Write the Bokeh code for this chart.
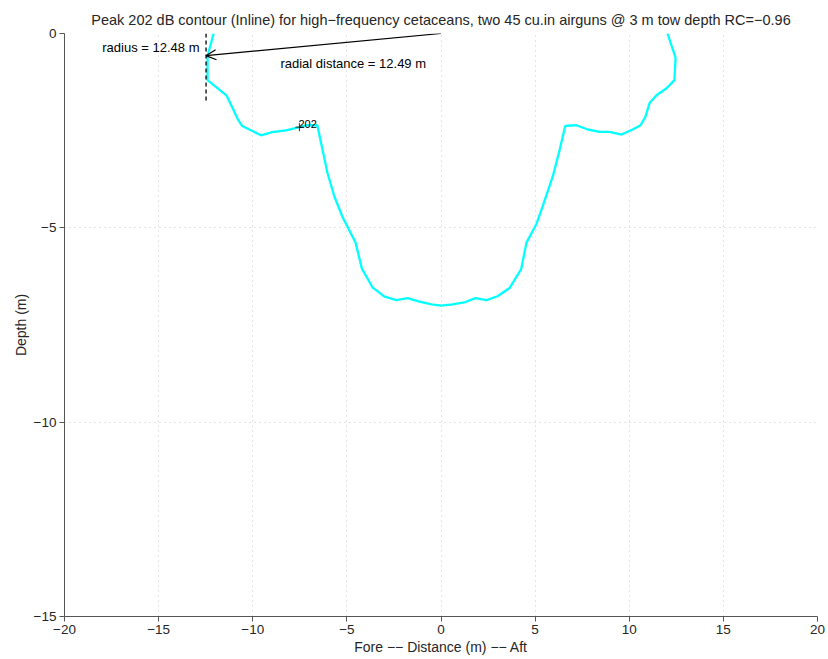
from bokeh.plotting import figure
from bokeh.models import Arrow, OpenHead, Range1d, FixedTicker, CustomJSTickFormatter
from bokeh.core.properties import value
from bokeh.embed import file_html
from bokeh.resources import INLINE

# ---- data ----
contour_x = [-12.08, -12.40, -12.40, -11.40, -11.09, -10.80, -10.56, -9.56, -8.97, -8.23,
             -7.52, -7.09, -6.57, -6.29, -6.03, -5.66, -5.23, -4.54, -4.20, -3.64,
             -3.00, -2.37, -1.78, -1.14, -0.50, 0.00, 0.60, 1.23, 1.83, 2.42,
             3.00, 3.64, 4.26, 4.54, 5.07, 5.40, 5.93, 6.30, 6.60, 7.19,
             7.80, 8.42, 8.95, 9.59, 10.18, 10.60, 10.85, 11.08, 11.45, 11.98,
             12.40, 12.46, 12.03]
contour_y = [0.00, -0.58, -1.20, -1.59, -1.90, -2.20, -2.38, -2.62, -2.54, -2.49,
             -2.41, -2.36, -2.36, -3.00, -3.59, -4.20, -4.72, -5.38, -6.05, -6.53,
             -6.77, -6.86, -6.81, -6.90, -6.97, -7.00, -6.97, -6.92, -6.81, -6.86,
             -6.76, -6.55, -6.06, -5.38, -4.90, -4.45, -3.69, -3.00, -2.38, -2.36,
             -2.47, -2.53, -2.53, -2.60, -2.47, -2.36, -2.15, -1.79, -1.59, -1.41,
             -1.20, -0.62, 0.00]

radius_x = [-12.48, -12.48]
radius_y = [0.0, -1.8]
arrow_start = [0.0, 0.0]
arrow_end = [-12.48, -0.57]
label_pt = [-7.52, -2.41]
label_text = ["202"]
radius_text = ["radius = 12.48 m"]
radius_text_pos = [-12.83, -0.36]
radial_text = ["radial distance = 12.49 m"]
radial_text_pos = [-8.53, -0.77]

x_ticks = [-20, -15, -10, -5, 0, 5, 10, 15, 20]
y_ticks = [-15, -10, -5, 0]

FONT = "Liberation Sans"
TXT = "#262626"

p = figure(width=826, height=657, output_backend="svg", toolbar_location=None,
           x_range=Range1d(-20, 20), y_range=Range1d(-15, 0),
           title="Peak 202 dB contour (Inline) for high\u2212frequency cetaceans, two 45 cu.in airguns @ 3 m tow depth RC=\u22120.96",
           min_border_left=64, min_border_right=9, min_border_top=33, min_border_bottom=39)
p.outline_line_color = None
p.background_fill_color = "white"
p.border_fill_color = "white"

p.title.align = "center"
p.title.text_font = FONT
p.title.text_font_size = "14.5px"
p.title.text_font_style = "normal"
p.title.text_color = TXT
p.title.standoff = 12

fmt = CustomJSTickFormatter(code="return tick < 0 ? '\u2212' + Math.abs(tick) : '' + tick;")
for ax, ticks in ((p.xaxis[0], x_ticks), (p.yaxis[0], y_ticks)):
    ax.ticker = FixedTicker(ticks=ticks)
    ax.formatter = fmt
    ax.major_label_text_font = FONT
    ax.major_label_text_font_size = "13.5px"
    ax.major_label_text_color = TXT
    ax.axis_label_text_font = FONT
    ax.axis_label_text_font_size = "14px"
    ax.axis_label_text_font_style = "normal"
    ax.axis_label_text_color = TXT
    ax.axis_line_color = "#555555"
    ax.major_tick_line_color = "#555555"
    ax.major_tick_out = 5
    ax.major_tick_in = 0
    ax.minor_tick_line_color = None
    ax.major_label_standoff = 3
    ax.axis_label_standoff = 2

p.xaxis.axis_label = "Fore \u2212\u2212 Distance (m) \u2212\u2212 Aft"
p.yaxis.axis_label = "Depth (m)"

p.xgrid.ticker = FixedTicker(ticks=x_ticks)
p.ygrid.ticker = FixedTicker(ticks=y_ticks)
for g in (p.xgrid[0], p.ygrid[0]):
    g.grid_line_color = "#c8c8c8"
    g.grid_line_dash = "1 4"
    g.grid_line_width = 1

p.line(contour_x, contour_y, line_color="#00FFFF", line_width=2.3)

p.line(radius_x, radius_y, line_color="black", line_dash="4 3", line_width=1.3)

p.add_layout(Arrow(end=OpenHead(size=10, line_color="black", line_width=1.2),
                   x_start=arrow_start[0], y_start=arrow_start[1],
                   x_end=arrow_end[0], y_end=arrow_end[1],
                   line_color="black", line_width=1.2))

p.text(x=[radius_text_pos[0]], y=[radius_text_pos[1]], text=radius_text,
       text_font=value(FONT), text_font_size="13px", text_color="black",
       text_align="right", text_baseline="middle")
p.text(x=[radial_text_pos[0]], y=[radial_text_pos[1]], text=radial_text,
       text_font=value(FONT), text_font_size="13px", text_color="black",
       text_align="left", text_baseline="middle")

p.scatter(x=[label_pt[0]], y=[label_pt[1]], marker="cross", size=8,
          line_color="#333333", line_width=1)
p.text(x=[label_pt[0]], y=[label_pt[1]], text=label_text,
       text_font=value(FONT), text_font_size="11px", text_color="black",
       text_align="left", text_baseline="bottom", x_offset=-1, y_offset=1)

open("out.html", "w").write(file_html(p, INLINE))
